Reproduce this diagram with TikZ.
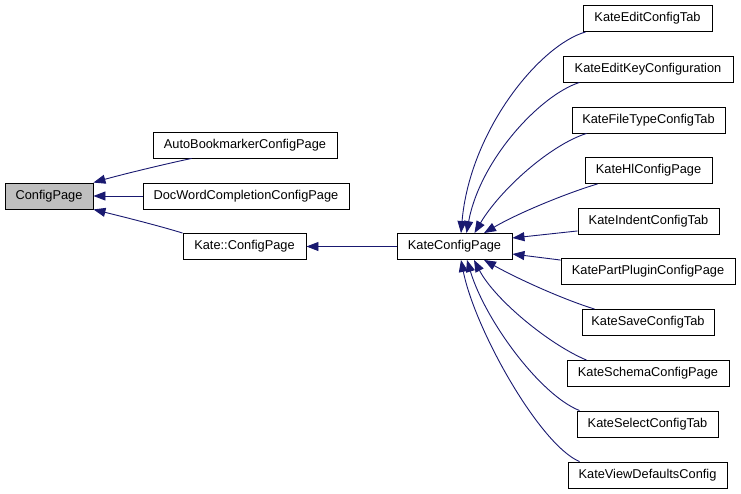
\documentclass[tikz,border=0pt]{standalone}
\usepackage{fontspec}
\setmainfont{Liberation Sans}
\usetikzlibrary{arrows.meta}
\definecolor{edgeblue}{HTML}{191970}
\definecolor{boxgray}{HTML}{BFBFBF}
\begin{document}
\begin{tikzpicture}[x=1pt,y=-1pt,
  cls/.style={draw=black, line width=0.9pt, fill=white, minimum height=26pt, inner sep=0pt,
    font=\fontsize{12.8}{14}\selectfont},
  edge/.style={draw=edgeblue, line width=0.9pt, -{Triangle[length=12pt,width=9pt]}}]
\useasboundingbox (0,0) rectangle (741,493);
\node[cls, fill=boxgray, minimum width=88pt] (cp) at (49,196) {ConfigPage};
\node[cls, minimum width=184pt] (auto) at (245,145) {AutoBookmarkerConfigPage};
\node[cls, minimum width=206pt] (doc) at (246,196) {DocWordCompletionConfigPage};
\node[cls, minimum width=123pt] (kcp) at (244.5,246.5) {Kate::ConfigPage};
\node[cls, minimum width=115pt] (kc) at (454.5,246.5) {KateConfigPage};
\node[cls, minimum width=129pt] (edit) at (647.5,18.5) {KateEditConfigTab};
\node[cls, minimum width=170pt] (key) at (648,69) {KateEditKeyConfiguration};
\node[cls, minimum width=153pt] (ftype) at (648.5,120) {KateFileTypeConfigTab};
\node[cls, minimum width=127pt] (hl) at (648.5,170.5) {KateHlConfigPage};
\node[cls, minimum width=141pt] (indent) at (648.5,221.5) {KateIndentConfigTab};
\node[cls, minimum width=174pt] (plugin) at (648,271.5) {KatePartPluginConfigPage};
\node[cls, minimum width=132pt] (save) at (648,322.5) {KateSaveConfigTab};
\node[cls, minimum width=162pt] (schema) at (648,373.5) {KateSchemaConfigPage};
\node[cls, minimum width=141pt] (select) at (647.5,424) {KateSelectConfigTab};
\node[cls, minimum width=159pt] (view) at (647.5,475) {KateViewDefaultsConfig};
% left part
\draw[edge] ([xshift=39pt]auto.south west) .. controls (165,164) and (120,175) .. (cp.north east);
\draw[edge] (doc.west) -- (cp.east);
\draw[edge] (kcp.north west) .. controls (160,226) and (120,216) .. (cp.south east);
\draw[edge] (kc.west) -- (kcp.east);
% right part
\draw[edge] ([xshift=3pt]edit.south west) .. controls (540,45) and (470,130) .. ([xshift=6.5pt]kc.north);
\draw[edge] ([xshift=17pt]key.south west) .. controls (540,95) and (480,160) .. ([xshift=12pt]kc.north);
\draw[edge] ([xshift=15pt]ftype.south west) .. controls (550,145) and (500,190) .. ([xshift=20pt]kc.north);
\draw[edge] ([xshift=13pt]hl.south west) .. controls (570,192) and (520,212) .. ([xshift=29.5pt]kc.north);
\draw[edge] ([yshift=4pt]indent.south west) -- ([yshift=8.5pt]kc.east);
\draw[edge] ([yshift=-2pt]plugin.north west) -- ([yshift=-7.5pt]kc.east);
\draw[edge] ([xshift=13pt]save.north west) .. controls (565,300) and (520,280) .. ([xshift=29.5pt]kc.south);
\draw[edge] ([xshift=20pt]schema.north west) .. controls (550,345) and (495,300) .. ([xshift=19.5pt]kc.south);
\draw[edge] ([xshift=3pt]select.north west) .. controls (540,395) and (485,320) .. ([xshift=12.5pt]kc.south);
\draw[edge] ([xshift=12pt]view.north west) .. controls (540,445) and (475,330) .. ([xshift=6.5pt]kc.south);
\end{tikzpicture}
\end{document}
